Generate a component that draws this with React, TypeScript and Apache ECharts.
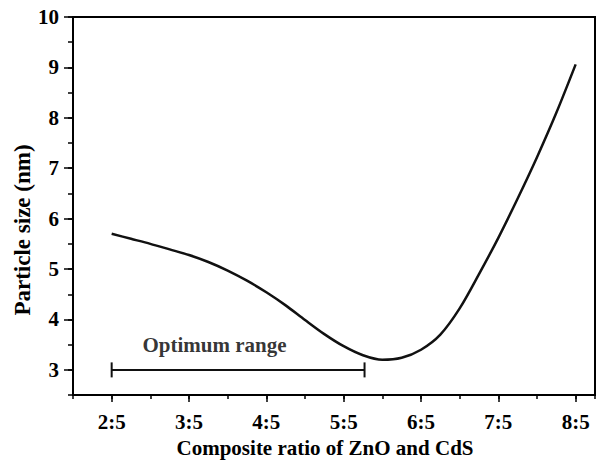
import React, { useEffect, useRef } from "react";
import * as echarts from "echarts";

// x value n means ratio "n:5"
const curveX = [2.0, 2.25, 2.5, 2.75, 3.0, 3.25, 3.5, 3.75, 4.0, 4.25, 4.5, 4.75, 5.0, 5.25, 5.5, 5.75, 6.0, 6.25, 6.5, 6.75, 7.0, 7.25, 7.5, 7.75, 8.0];
const curveY = [5.7, 5.6, 5.5, 5.39, 5.28, 5.14, 4.97, 4.77, 4.54, 4.28, 3.99, 3.71, 3.47, 3.29, 3.2, 3.24, 3.4, 3.7, 4.22, 4.9, 5.62, 6.4, 7.22, 8.1, 9.06];
const rangeX = [2.0, 5.27];
const rangeY = 3;
const rangeLabel = "Optimum range";
const rangeLabelPos = [3.33, 3.5];
const xMajorTicks = [2, 3, 4, 5, 6, 7, 8];
const yMajorTicks = [3, 4, 5, 6, 7, 8, 9, 10];
const xTitle = "Composite ratio of ZnO and CdS";
const yTitle = "Particle size (nm)";

const FONT = "'Liberation Serif', 'Times New Roman', serif";

export default function App() {
  const ref = useRef<HTMLDivElement>(null);
  useEffect(() => {
    if (!ref.current) return;
    const chart = echarts.init(ref.current, undefined, { renderer: "svg" });
    const isInt = (v: number) => Math.abs(v - Math.round(v)) < 1e-6;
    chart.setOption({
      animation: false,
      backgroundColor: "#ffffff",
      grid: {
        left: 73,
        top: 17,
        width: 524,
        height: 390,
        show: true,
        borderColor: "#000",
        borderWidth: 2,
        backgroundColor: "transparent",
      },
      graphic: [
        {
          type: "text",
          x: 22,
          y: 230,
          rotation: Math.PI / 2,
          style: {
            text: yTitle,
            align: "center",
            verticalAlign: "middle",
            fontFamily: FONT,
            fontWeight: "bold",
            fontSize: 23,
            fill: "#000",
          },
        },
      ],
      xAxis: [
        {
          type: "value",
          min: 1.5,
          max: 8.25,
          interval: 0.5,
          name: xTitle,
          nameLocation: "middle",
          nameGap: 37,
          nameTextStyle: {
            fontFamily: FONT,
            fontWeight: "bold",
            fontSize: 21,
            color: "#000",
            padding: [0, 18, 0, 0],
          },
          axisLine: { show: true, lineStyle: { color: "#000", width: 2 } },
          axisTick: { show: true, length: 4, lineStyle: { color: "#000", width: 1.5 } },
          axisLabel: {
            margin: 16,
            fontFamily: FONT,
            fontWeight: "bold",
            fontSize: 21,
            color: "#000",
            formatter: (v: number) => (isInt(v) && v >= 2 && v <= 8 ? `${v}:5` : ""),
          },
          splitLine: { show: false },
        },
        {
          type: "value",
          position: "bottom",
          min: 1.5,
          max: 8.25,
          axisLine: { show: false },
          axisTick: {
            show: true,
            length: 7,
            customValues: xMajorTicks,
            lineStyle: { color: "#000", width: 1.5 },
          },
          axisLabel: { show: false },
          splitLine: { show: false },
        },
      ],
      yAxis: [
        {
          type: "value",
          min: 2.5,
          max: 10,
          interval: 0.5,
          axisLine: { show: true, lineStyle: { color: "#000", width: 2 } },
          axisTick: { show: true, length: 5, lineStyle: { color: "#000", width: 1.5 } },
          axisLabel: {
            margin: 14,
            fontFamily: FONT,
            fontWeight: "bold",
            fontSize: 21,
            color: "#000",
            formatter: (v: number) => (isInt(v) ? `${v}` : ""),
          },
          splitLine: { show: false },
        },
        {
          type: "value",
          position: "left",
          min: 2.5,
          max: 10,
          axisLine: { show: false },
          axisTick: {
            show: true,
            length: 9,
            customValues: yMajorTicks,
            lineStyle: { color: "#000", width: 1.5 },
          },
          axisLabel: { show: false },
          splitLine: { show: false },
        },
      ],
      series: [
        {
          type: "line",
          data: curveX.map((x, i) => [x, curveY[i]]),
          smooth: 0.3,
          showSymbol: false,
          symbol: "none",
          lineStyle: { color: "#111", width: 2.5 },
        },
        {
          type: "line",
          data: rangeX.map((x) => [x, rangeY]),
          symbol: "rect",
          symbolSize: [2, 15],
          showSymbol: true,
          itemStyle: { color: "#111" },
          lineStyle: { color: "#111", width: 2 },
        },
        {
          type: "scatter",
          data: [rangeLabelPos],
          symbolSize: 0,
          label: {
            show: true,
            position: "inside",
            formatter: rangeLabel,
            fontFamily: FONT,
            fontWeight: "bold",
            fontSize: 21,
            color: "#000",
          },
        },
      ],
    });
    return () => chart.dispose();
  }, []);
  return (
    <div
      ref={ref}
      style={{ position: "fixed", left: 0, top: 0, width: 598, height: 463 }}
    />
  );
}
